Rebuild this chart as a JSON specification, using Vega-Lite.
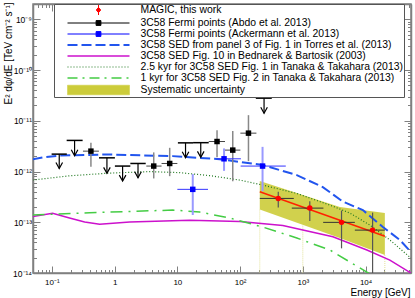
{
  "$schema": "https://vega.github.io/schema/vega-lite/v6.json",
  "width": 378,
  "height": 269,
  "autosize": {"type": "none"},
  "padding": {"left": 33, "top": 4, "right": 4, "bottom": 25},
  "background": "white",
  "config": {
    "view": {"stroke": "#808080", "strokeWidth": 1.5},
    "font": "Liberation Sans",
    "axis": {"domainColor": "#808080", "domainWidth": 1.5, "tickColor": "#808080", "tickWidth": 1, "grid": false, "labelFont": "Liberation Sans", "titleFont": "Liberation Sans", "labelColor": "black", "titleColor": "black", "titleFontWeight": "normal"}
  },
  "datasets": {
    "band": [
      {"E": 206, "Flo": 1.78e-13, "Fhi": 6.47e-13},
      {"E": 3890, "Flo": 4.89e-14, "Fhi": 1.99e-13},
      {"E": 20300, "Flo": 2.26e-14, "Fhi": 1.52e-13}
    ],
    "bandlines": [
      {"E": 206, "Ftop": 1.78e-13},
      {"E": 1000, "Ftop": 8.57e-14},
      {"E": 20300, "Ftop": 2.26e-14}
    ],
    "models": [
      {"series": "3C58 SED from panel 3 of Fig. 1 in Torres et al. (2013)", "E": 0.0492, "F": 1.73e-12},
      {"series": "3C58 SED from panel 3 of Fig. 1 in Torres et al. (2013)", "E": 0.0765, "F": 1.92e-12},
      {"series": "3C58 SED from panel 3 of Fig. 1 in Torres et al. (2013)", "E": 0.133, "F": 2.06e-12},
      {"series": "3C58 SED from panel 3 of Fig. 1 in Torres et al. (2013)", "E": 0.746, "F": 2.17e-12},
      {"series": "3C58 SED from panel 3 of Fig. 1 in Torres et al. (2013)", "E": 8.43, "F": 2.01e-12},
      {"series": "3C58 SED from panel 3 of Fig. 1 in Torres et al. (2013)", "E": 47.4, "F": 1.75e-12},
      {"series": "3C58 SED from panel 3 of Fig. 1 in Torres et al. (2013)", "E": 230, "F": 1.34e-12},
      {"series": "3C58 SED from panel 3 of Fig. 1 in Torres et al. (2013)", "E": 802, "F": 8.5e-13},
      {"series": "3C58 SED from panel 3 of Fig. 1 in Torres et al. (2013)", "E": 2083, "F": 4.93e-13},
      {"series": "3C58 SED from panel 3 of Fig. 1 in Torres et al. (2013)", "E": 4345, "F": 2.55e-13},
      {"series": "3C58 SED from panel 3 of Fig. 1 in Torres et al. (2013)", "E": 9060, "F": 1.74e-13},
      {"series": "3C58 SED from panel 3 of Fig. 1 in Torres et al. (2013)", "E": 18900, "F": 8.05e-14},
      {"series": "3C58 SED from panel 3 of Fig. 1 in Torres et al. (2013)", "E": 35300, "F": 4.47e-14},
      {"series": "3C58 SED from panel 3 of Fig. 1 in Torres et al. (2013)", "E": 52800, "F": 2.59e-14},
      {"series": "3C58 SED Fig. 10 in Bednarek & Bartosik (2003)", "E": 0.0492, "F": 1.29e-13},
      {"series": "3C58 SED Fig. 10 in Bednarek & Bartosik (2003)", "E": 0.1026, "F": 1.5e-13},
      {"series": "3C58 SED Fig. 10 in Bednarek & Bartosik (2003)", "E": 0.191, "F": 1.21e-13},
      {"series": "3C58 SED Fig. 10 in Bednarek & Bartosik (2003)", "E": 0.333, "F": 1.01e-13},
      {"series": "3C58 SED Fig. 10 in Bednarek & Bartosik (2003)", "E": 0.577, "F": 9.1e-14},
      {"series": "3C58 SED Fig. 10 in Bednarek & Bartosik (2003)", "E": 1.74, "F": 1.01e-13},
      {"series": "3C58 SED Fig. 10 in Bednarek & Bartosik (2003)", "E": 15.7, "F": 1.1e-13},
      {"series": "3C58 SED Fig. 10 in Bednarek & Bartosik (2003)", "E": 98.9, "F": 1.03e-13},
      {"series": "3C58 SED Fig. 10 in Bednarek & Bartosik (2003)", "E": 480, "F": 8.6e-14},
      {"series": "3C58 SED Fig. 10 in Bednarek & Bartosik (2003)", "E": 3016, "F": 5.19e-14},
      {"series": "3C58 SED Fig. 10 in Bednarek & Bartosik (2003)", "E": 10500, "F": 2.84e-14},
      {"series": "3C58 SED Fig. 10 in Bednarek & Bartosik (2003)", "E": 24400, "F": 1.8e-14},
      {"series": "3C58 SED Fig. 10 in Bednarek & Bartosik (2003)", "E": 52800, "F": 1.0e-14},
      {"series": "2.5 kyr for 3C58 SED Fig. 1 in Tanaka & Takahara (2013)", "E": 0.0492, "F": 6.78e-13},
      {"series": "2.5 kyr for 3C58 SED Fig. 1 in Tanaka & Takahara (2013)", "E": 0.191, "F": 8.23e-13},
      {"series": "2.5 kyr for 3C58 SED Fig. 1 in Tanaka & Takahara (2013)", "E": 0.833, "F": 9.3e-13},
      {"series": "2.5 kyr for 3C58 SED Fig. 1 in Tanaka & Takahara (2013)", "E": 3.62, "F": 9.96e-13},
      {"series": "2.5 kyr for 3C58 SED Fig. 1 in Tanaka & Takahara (2013)", "E": 10.9, "F": 9.5e-13},
      {"series": "2.5 kyr for 3C58 SED Fig. 1 in Tanaka & Takahara (2013)", "E": 32.8, "F": 8.3e-13},
      {"series": "2.5 kyr for 3C58 SED Fig. 1 in Tanaka & Takahara (2013)", "E": 98.9, "F": 6.78e-13},
      {"series": "2.5 kyr for 3C58 SED Fig. 1 in Tanaka & Takahara (2013)", "E": 230, "F": 5.4e-13},
      {"series": "2.5 kyr for 3C58 SED Fig. 1 in Tanaka & Takahara (2013)", "E": 802, "F": 3.7e-13},
      {"series": "2.5 kyr for 3C58 SED Fig. 1 in Tanaka & Takahara (2013)", "E": 2694, "F": 2.18e-13},
      {"series": "2.5 kyr for 3C58 SED Fig. 1 in Tanaka & Takahara (2013)", "E": 5612, "F": 1.52e-13},
      {"series": "2.5 kyr for 3C58 SED Fig. 1 in Tanaka & Takahara (2013)", "E": 11720, "F": 8.8e-14},
      {"series": "2.5 kyr for 3C58 SED Fig. 1 in Tanaka & Takahara (2013)", "E": 24400, "F": 4.47e-14},
      {"series": "2.5 kyr for 3C58 SED Fig. 1 in Tanaka & Takahara (2013)", "E": 52800, "F": 1.97e-14},
      {"series": "1 kyr for 3C58 SED Fig. 2 in Tanaka & Takahara (2013)", "E": 0.0492, "F": 1.39e-13},
      {"series": "1 kyr for 3C58 SED Fig. 2 in Tanaka & Takahara (2013)", "E": 0.4, "F": 1.54e-13},
      {"series": "1 kyr for 3C58 SED Fig. 2 in Tanaka & Takahara (2013)", "E": 1.74, "F": 1.63e-13},
      {"series": "1 kyr for 3C58 SED Fig. 2 in Tanaka & Takahara (2013)", "E": 8.43, "F": 1.74e-13},
      {"series": "1 kyr for 3C58 SED Fig. 2 in Tanaka & Takahara (2013)", "E": 22.7, "F": 1.59e-13},
      {"series": "1 kyr for 3C58 SED Fig. 2 in Tanaka & Takahara (2013)", "E": 68.4, "F": 1.21e-13},
      {"series": "1 kyr for 3C58 SED Fig. 2 in Tanaka & Takahara (2013)", "E": 230, "F": 8.05e-14},
      {"series": "1 kyr for 3C58 SED Fig. 2 in Tanaka & Takahara (2013)", "E": 802, "F": 4.89e-14},
      {"series": "1 kyr for 3C58 SED Fig. 2 in Tanaka & Takahara (2013)", "E": 2694, "F": 2.84e-14},
      {"series": "1 kyr for 3C58 SED Fig. 2 in Tanaka & Takahara (2013)", "E": 5612, "F": 1.65e-14},
      {"series": "1 kyr for 3C58 SED Fig. 2 in Tanaka & Takahara (2013)", "E": 12590, "F": 9.1e-15}
    ],
    "ul": [
      {"E": 0.131, "Elo": 0.099, "Ehi": 0.173, "F": 2.2e-12, "tip": 1.15e-12},
      {"E": 0.23, "Elo": 0.172, "Ehi": 0.309, "F": 4.1e-12, "tip": 2.04e-12},
      {"E": 0.754, "Elo": 0.563, "Ehi": 1.01, "F": 1.86e-12, "tip": 9.2e-13},
      {"E": 1.34, "Elo": 1.01, "Ehi": 1.78, "F": 1.28e-12, "tip": 6.47e-13},
      {"E": 2.36, "Elo": 1.78, "Ehi": 3.13, "F": 1.44e-12, "tip": 7.52e-13},
      {"E": 13.5, "Elo": 10.2, "Ehi": 17.8, "F": 3.67e-12, "tip": 1.86e-12},
      {"E": 23.6, "Elo": 17.8, "Ehi": 31.6, "F": 3.7e-12, "tip": 1.9e-12},
      {"E": 241, "Elo": 178, "Ehi": 320, "F": 2.79e-11, "tip": 1.41e-11}
    ],
    "abdo": [
      {"E": 0.419, "Elo": 0.313, "Ehi": 0.562, "F": 2.52e-12, "Flo": 1.24e-12, "Fhi": 3.67e-12},
      {"E": 4.2, "Elo": 3.2, "Ehi": 5.6, "F": 1.28e-12, "Flo": 7.3e-13, "Fhi": 2.38e-12},
      {"E": 7.55, "Elo": 5.6, "Ehi": 10, "F": 1.44e-12, "Flo": 8.1e-13, "Fhi": 2.93e-12},
      {"E": 42.9, "Elo": 31.6, "Ehi": 57.5, "F": 3.9e-12, "Flo": 1.9e-12, "Fhi": 6.53e-12},
      {"E": 76.4, "Elo": 57.5, "Ehi": 101, "F": 2.64e-12, "Flo": 6.4e-13, "Fhi": 6.3e-12},
      {"E": 136, "Elo": 101, "Ehi": 182, "F": 5.7e-12, "Flo": 1.6e-12, "Fhi": 1.29e-11}
    ],
    "ackermann": [
      {"E": 17.6, "Elo": 10, "Ehi": 30.8, "F": 4.45e-13, "Flo": 1.39e-13, "Fhi": 8.9e-13},
      {"E": 55.5, "Elo": 42.9, "Ehi": 103, "F": 1.78e-12, "Flo": 1.03e-12, "Fhi": 2.85e-12},
      {"E": 228, "Elo": 102, "Ehi": 535, "F": 1.28e-12, "Flo": 4.1e-13, "Fhi": 3.06e-12}
    ],
    "magic": [
      {"E": 406, "Elo": 206, "Ehi": 718, "F": 2.95e-13, "Flo": 1.96e-13, "Fhi": 3.98e-13},
      {"E": 1291, "Elo": 667, "Ehi": 2130, "F": 1.9e-13, "Flo": 1.06e-13, "Fhi": 2.6e-13},
      {"E": 4140, "Elo": 2110, "Ehi": 6750, "F": 9.95e-14, "Flo": 3.06e-14, "Fhi": 1.7e-13},
      {"E": 12940, "Elo": 6750, "Ehi": 20300, "F": 7.0e-14, "Flo": 1.0e-14, "Fhi": 1.55e-13}
    ],
    "fit": [
      {"E": 206, "F": 3.98e-13},
      {"E": 20300, "F": 5.3e-14}
    ]
  },
  "resolve": {"axis": {"x": "independent", "y": "independent"}},
  "layer": [
    {
      "data": {"name": "band"},
      "mark": {"type": "area", "color": "#cccc3a", "opacity": 0.9, "clip": true},
      "encoding": {
        "x": {"field": "E", "type": "quantitative", "scale": {"type": "log", "domain": [0.05, 53000], "nice": false},
          "axis": {"orient": "bottom", "values": [0.05,0.06,0.07,0.08,0.09,0.1,0.2,0.3,0.4,0.5,0.6,0.7,0.8,0.9,1,2,3,4,5,6,7,8,9,10,20,30,40,50,60,70,80,90,100,200,300,400,500,600,700,800,900,1000,2000,3000,4000,5000,6000,7000,8000,9000,10000,20000,30000,40000,50000],
            "labelExpr": "abs(log(datum.value)/LN10 - round(log(datum.value)/LN10)) > 0.001 ? '' : ['10⁻¹','1','10','10²','10³','10⁴'][round(log(datum.value)/LN10)+1]",
            "tickSize": {"condition": {"test": "abs(log(datum.value)/LN10 - round(log(datum.value)/LN10)) < 0.001", "value": -7}, "value": -3.5},
            "labelPadding": 12.5, "labelFontSize": 8, "labelOverlap": false, "labelFlush": false,
            "title": "Energy [GeV]", "titleFontSize": 10, "titleAnchor": "end", "titleAlign": "right", "titleX": 377, "titleY": 22.5, "titleBaseline": "alphabetic"}},
        "y": {"field": "Flo", "type": "quantitative", "scale": {"type": "log", "domain": [1e-14, 2e-9], "nice": false},
          "axis": {"orient": "left", "values": [1e-14,2e-14,3e-14,4e-14,5e-14,6e-14,7e-14,8e-14,9e-14,1e-13,2e-13,3e-13,4e-13,5e-13,6e-13,7e-13,8e-13,9e-13,1e-12,2e-12,3e-12,4e-12,5e-12,6e-12,7e-12,8e-12,9e-12,1e-11,2e-11,3e-11,4e-11,5e-11,6e-11,7e-11,8e-11,9e-11,1e-10,2e-10,3e-10,4e-10,5e-10,6e-10,7e-10,8e-10,9e-10,1e-9,2e-9],
            "labelExpr": "abs(log(datum.value)/LN10 - round(log(datum.value)/LN10)) > 0.001 ? '' : ['10⁻¹⁴','10⁻¹³','10⁻¹²','10⁻¹¹','10⁻¹⁰','10⁻⁹'][round(log(datum.value)/LN10)+14]",
            "tickSize": {"condition": {"test": "abs(log(datum.value)/LN10 - round(log(datum.value)/LN10)) < 0.001", "value": -7}, "value": -3.5},
            "labelPadding": 8.5, "labelFontSize": 8.5, "labelOverlap": false, "labelFlush": false,
            "title": "E² dφ/dE [TeV cm⁻² s⁻¹]", "titleFontSize": 10, "titleAngle": 270, "titleAlign": "right", "titleBaseline": "bottom", "titleX": -20, "titleY": -2}},
        "y2": {"field": "Fhi"}
      }
    },
    {
      "data": {"name": "bandlines"},
      "mark": {"type": "rule", "color": "#e2e29a", "strokeWidth": 1, "strokeDash": [1, 1]},
      "encoding": {
        "x": {"field": "E", "type": "quantitative", "scale": {"type": "log", "domain": [0.05, 53000], "nice": false}, "axis": null},
        "y": {"field": "Ftop", "type": "quantitative", "scale": {"type": "log", "domain": [1e-14, 2e-9], "nice": false}, "axis": null},
        "y2": {"datum": 1e-14}
      }
    },
    {
      "data": {"name": "models"},
      "transform": [{"filter": "datum.series === '3C58 SED Fig. 10 in Bednarek & Bartosik (2003)'"}],
      "mark": {"type": "line", "color": "#cc11cc", "strokeWidth": 1.5, "clip": true},
      "encoding": {
        "x": {"field": "E", "type": "quantitative", "scale": {"type": "log", "domain": [0.05, 53000], "nice": false}, "axis": null},
        "y": {"field": "F", "type": "quantitative", "scale": {"type": "log", "domain": [1e-14, 2e-9], "nice": false}, "axis": null}
      }
    },
    {
      "data": {"name": "models"},
      "transform": [{"filter": "datum.series === '1 kyr for 3C58 SED Fig. 2 in Tanaka & Takahara (2013)'"}],
      "mark": {"type": "line", "color": "#44cc44", "strokeWidth": 1.5, "strokeDash": [12, 6, 2, 6], "clip": true},
      "encoding": {
        "x": {"field": "E", "type": "quantitative", "scale": {"type": "log", "domain": [0.05, 53000], "nice": false}, "axis": null},
        "y": {"field": "F", "type": "quantitative", "scale": {"type": "log", "domain": [1e-14, 2e-9], "nice": false}, "axis": null}
      }
    },
    {
      "data": {"name": "models"},
      "transform": [{"filter": "datum.series === '2.5 kyr for 3C58 SED Fig. 1 in Tanaka & Takahara (2013)'"}],
      "mark": {"type": "line", "color": "#207820", "strokeWidth": 1.2, "strokeDash": [1, 2], "clip": true},
      "encoding": {
        "x": {"field": "E", "type": "quantitative", "scale": {"type": "log", "domain": [0.05, 53000], "nice": false}, "axis": null},
        "y": {"field": "F", "type": "quantitative", "scale": {"type": "log", "domain": [1e-14, 2e-9], "nice": false}, "axis": null}
      }
    },
    {
      "data": {"name": "models"},
      "transform": [{"filter": "datum.series === '3C58 SED from panel 3 of Fig. 1 in Torres et al. (2013)'"}],
      "mark": {"type": "line", "strokeWidth": 2, "strokeDash": [10, 4], "clip": true},
      "encoding": {
        "x": {"field": "E", "type": "quantitative", "scale": {"type": "log", "domain": [0.05, 53000], "nice": false}, "axis": null},
        "y": {"field": "F", "type": "quantitative", "scale": {"type": "log", "domain": [1e-14, 2e-9], "nice": false}, "axis": null},
        "color": {"field": "series", "type": "nominal",
          "scale": {"domain": ["MAGIC, this work", "3C58 Fermi points (Abdo et al. 2013)", "3C58 Fermi points (Ackermann et al. 2013)", "3C58 SED from panel 3 of Fig. 1 in Torres et al. (2013)", "3C58 SED Fig. 10 in Bednarek & Bartosik (2003)", "2.5 kyr for 3C58 SED Fig. 1 in Tanaka & Takahara (2013)", "1 kyr for 3C58 SED Fig. 2 in Tanaka & Takahara (2013)", "Systematic uncertainty"],
                    "range": ["#ff0000", "#000000", "#0000ff", "#2255ee", "#cc11cc", "#207820", "#44cc44", "#cccc3a"]},
          "legend": {"orient": "none", "legendX": 21, "legendY": 0, "title": null, "direction": "vertical", "columns": 1,
            "padding": 0.5, "fillColor": "white", "strokeColor": "#555555",
            "labelFont": "Liberation Sans", "labelFontSize": 10.4, "labelColor": "black", "labelLimit": 400,
            "symbolSize": 64, "rowPadding": 0,
            "encode": {
              "symbols": {"update": {
                "x": {"value": 44},
                "y": {"value": 5.5},
                "shape": {"signal": "['M0,-1.25V1.25M0,-0.65L0.55,0L0,0.65L-0.55,0Z','M-7.75,0H7.75M-0.6,-0.6H0.6V0.6H-0.6Z','M-7.75,0H7.75M-0.6,-0.6H0.6V0.6H-0.6Z','M-7.75,0H7.75','M-7.75,0H7.75','M-7.75,0H7.75','M-7.75,0H7.75','M-7.75,-1.2H7.75V1.2H-7.75Z'][datum.index]"},
                "size": {"value": 64},
                "stroke": {"signal": "['#ff0000','#000000','#0000ff','#2255ee','#cc11cc','#207820','#44cc44','#e6e690'][datum.index]"},
                "fill": {"signal": "['#ff0000','#000000','#0000ff','transparent','transparent','transparent','transparent','#cccc3a'][datum.index]"},
                "strokeDash": {"signal": "[[],[],[],[10,4],[],[1,2],[10,5,2,5],[]][datum.index]"},
                "strokeWidth": {"signal": "[1,1,1,2,1.5,1.2,1.5,0.5][datum.index]"},
                "opacity": {"value": 1}
              }},
              "labels": {"update": {"x": {"value": 86}, "y": {"value": 5.5}}}
            }}
        }
      }
    },
    {
      "data": {"name": "ul"},
      "mark": {"type": "rule", "color": "black", "strokeWidth": 1.5},
      "encoding": {
        "x": {"field": "Elo", "type": "quantitative", "scale": {"type": "log", "domain": [0.05, 53000], "nice": false}, "axis": null},
        "x2": {"field": "Ehi"},
        "y": {"field": "F", "type": "quantitative", "scale": {"type": "log", "domain": [1e-14, 2e-9], "nice": false}, "axis": null}
      }
    },
    {
      "data": {"name": "ul"},
      "mark": {"type": "rule", "color": "black", "strokeWidth": 1.2},
      "encoding": {
        "x": {"field": "E", "type": "quantitative", "scale": {"type": "log", "domain": [0.05, 53000], "nice": false}, "axis": null},
        "y": {"field": "F", "type": "quantitative", "scale": {"type": "log", "domain": [1e-14, 2e-9], "nice": false}, "axis": null},
        "y2": {"field": "tip"}
      }
    },
    {
      "data": {"name": "ul"},
      "mark": {"type": "point", "shape": "M-0.55,-1L0,0L0.55,-1", "size": 144, "filled": false, "stroke": "black", "strokeWidth": 1.2, "opacity": 1},
      "encoding": {
        "x": {"field": "E", "type": "quantitative", "scale": {"type": "log", "domain": [0.05, 53000], "nice": false}, "axis": null},
        "y": {"field": "tip", "type": "quantitative", "scale": {"type": "log", "domain": [1e-14, 2e-9], "nice": false}, "axis": null}
      }
    },
    {
      "data": {"name": "abdo"},
      "mark": {"type": "rule", "color": "#444444", "strokeWidth": 1},
      "encoding": {
        "x": {"field": "Elo", "type": "quantitative", "scale": {"type": "log", "domain": [0.05, 53000], "nice": false}, "axis": null},
        "x2": {"field": "Ehi"},
        "y": {"field": "F", "type": "quantitative", "scale": {"type": "log", "domain": [1e-14, 2e-9], "nice": false}, "axis": null}
      }
    },
    {
      "data": {"name": "abdo"},
      "mark": {"type": "rule", "color": "#888888", "strokeWidth": 1.5},
      "encoding": {
        "x": {"field": "E", "type": "quantitative", "scale": {"type": "log", "domain": [0.05, 53000], "nice": false}, "axis": null},
        "y": {"field": "Flo", "type": "quantitative", "scale": {"type": "log", "domain": [1e-14, 2e-9], "nice": false}, "axis": null},
        "y2": {"field": "Fhi"}
      }
    },
    {
      "data": {"name": "abdo"},
      "mark": {"type": "point", "shape": "square", "size": 30, "filled": true, "color": "black", "opacity": 1},
      "encoding": {
        "x": {"field": "E", "type": "quantitative", "scale": {"type": "log", "domain": [0.05, 53000], "nice": false}, "axis": null},
        "y": {"field": "F", "type": "quantitative", "scale": {"type": "log", "domain": [1e-14, 2e-9], "nice": false}, "axis": null}
      }
    },
    {
      "data": {"name": "ackermann"},
      "mark": {"type": "rule", "color": "#3333ff", "strokeWidth": 1},
      "encoding": {
        "x": {"field": "Elo", "type": "quantitative", "scale": {"type": "log", "domain": [0.05, 53000], "nice": false}, "axis": null},
        "x2": {"field": "Ehi"},
        "y": {"field": "F", "type": "quantitative", "scale": {"type": "log", "domain": [1e-14, 2e-9], "nice": false}, "axis": null}
      }
    },
    {
      "data": {"name": "ackermann"},
      "mark": {"type": "rule", "color": "#9999ff", "strokeWidth": 2},
      "encoding": {
        "x": {"field": "E", "type": "quantitative", "scale": {"type": "log", "domain": [0.05, 53000], "nice": false}, "axis": null},
        "y": {"field": "Flo", "type": "quantitative", "scale": {"type": "log", "domain": [1e-14, 2e-9], "nice": false}, "axis": null},
        "y2": {"field": "Fhi"}
      }
    },
    {
      "data": {"name": "ackermann"},
      "mark": {"type": "point", "shape": "square", "size": 30, "filled": true, "color": "#0000ff", "opacity": 1},
      "encoding": {
        "x": {"field": "E", "type": "quantitative", "scale": {"type": "log", "domain": [0.05, 53000], "nice": false}, "axis": null},
        "y": {"field": "F", "type": "quantitative", "scale": {"type": "log", "domain": [1e-14, 2e-9], "nice": false}, "axis": null}
      }
    },
    {
      "data": {"name": "fit"},
      "mark": {"type": "line", "color": "#ff2200", "strokeWidth": 1.5},
      "encoding": {
        "x": {"field": "E", "type": "quantitative", "scale": {"type": "log", "domain": [0.05, 53000], "nice": false}, "axis": null},
        "y": {"field": "F", "type": "quantitative", "scale": {"type": "log", "domain": [1e-14, 2e-9], "nice": false}, "axis": null}
      }
    },
    {
      "data": {"name": "magic"},
      "mark": {"type": "rule", "color": "#333333", "strokeWidth": 1},
      "encoding": {
        "x": {"field": "Elo", "type": "quantitative", "scale": {"type": "log", "domain": [0.05, 53000], "nice": false}, "axis": null},
        "x2": {"field": "Ehi"},
        "y": {"field": "F", "type": "quantitative", "scale": {"type": "log", "domain": [1e-14, 2e-9], "nice": false}, "axis": null}
      }
    },
    {
      "data": {"name": "magic"},
      "mark": {"type": "rule", "color": "#555555", "strokeWidth": 1.2},
      "encoding": {
        "x": {"field": "E", "type": "quantitative", "scale": {"type": "log", "domain": [0.05, 53000], "nice": false}, "axis": null},
        "y": {"field": "Flo", "type": "quantitative", "scale": {"type": "log", "domain": [1e-14, 2e-9], "nice": false}, "axis": null},
        "y2": {"field": "Fhi"}
      }
    },
    {
      "data": {"name": "magic"},
      "mark": {"type": "point", "shape": "circle", "size": 30, "filled": true, "color": "#ff0000", "opacity": 1},
      "encoding": {
        "x": {"field": "E", "type": "quantitative", "scale": {"type": "log", "domain": [0.05, 53000], "nice": false},
          "axis": {"orient": "top", "values": [0.05,0.06,0.07,0.08,0.09,0.1,0.2,0.3,0.4,0.5,0.6,0.7,0.8,0.9,1,2,3,4,5,6,7,8,9,10,20,30,40,50,60,70,80,90,100,200,300,400,500,600,700,800,900,1000,2000,3000,4000,5000,6000,7000,8000,9000,10000,20000,30000,40000,50000],
            "labels": false, "title": null,
            "tickSize": {"condition": {"test": "abs(log(datum.value)/LN10 - round(log(datum.value)/LN10)) < 0.001", "value": -7}, "value": -3.5}}},
        "y": {"field": "F", "type": "quantitative", "scale": {"type": "log", "domain": [1e-14, 2e-9], "nice": false},
          "axis": {"orient": "right", "values": [1e-14,2e-14,3e-14,4e-14,5e-14,6e-14,7e-14,8e-14,9e-14,1e-13,2e-13,3e-13,4e-13,5e-13,6e-13,7e-13,8e-13,9e-13,1e-12,2e-12,3e-12,4e-12,5e-12,6e-12,7e-12,8e-12,9e-12,1e-11,2e-11,3e-11,4e-11,5e-11,6e-11,7e-11,8e-11,9e-11,1e-10,2e-10,3e-10,4e-10,5e-10,6e-10,7e-10,8e-10,9e-10,1e-9,2e-9],
            "labels": false, "title": null,
            "tickSize": {"condition": {"test": "abs(log(datum.value)/LN10 - round(log(datum.value)/LN10)) < 0.001", "value": -7}, "value": -3.5}}}
      }
    }
  ]
}
